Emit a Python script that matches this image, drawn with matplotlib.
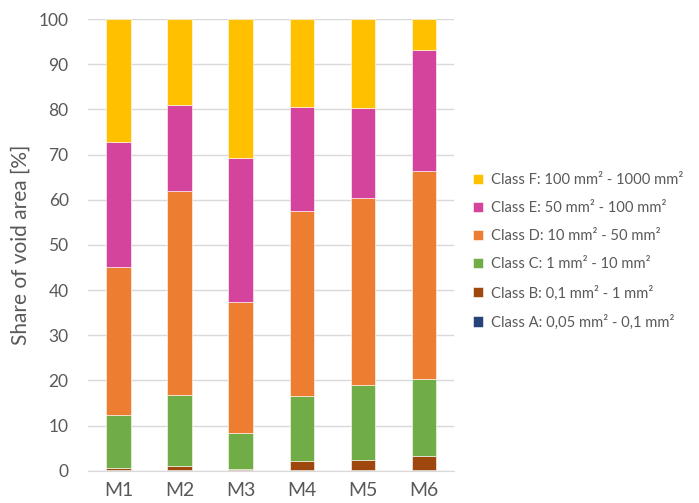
import numpy as np
import matplotlib.pyplot as plt

samples = ['M1', 'M2', 'M3', 'M4', 'M5', 'M6']

# share of void area per class, in percent
class_a = [0.1, 0.1, 0.1, 0.1, 0.1, 0.1]
class_b = [0.6, 0.9, 0.3, 2.0, 2.4, 3.2]
class_c = [11.6, 15.7, 7.9, 14.4, 16.5, 17.0]
class_d = [32.8, 45.3, 29.0, 41.0, 41.5, 46.0]
class_e = [27.6, 19.0, 32.0, 23.0, 19.8, 26.8]
class_f = [27.3, 19.0, 30.7, 19.5, 19.7, 6.9]

labels = ['Class A: 0,05 mm² - 0,1 mm²',
          'Class B: 0,1 mm² - 1 mm²',
          'Class C: 1 mm² - 10 mm²',
          'Class D: 10 mm² - 50 mm²',
          'Class E: 50 mm² - 100 mm²',
          'Class F: 100 mm² - 1000 mm²']
colors = ['#264478', '#9E480E', '#70AD47', '#ED7D31', '#D4449C', '#FFC000']

plt.rcParams['font.family'] = ['Lato', 'DejaVu Sans']
txt = '#595959'

fig = plt.figure(figsize=(6.99, 5.03), dpi=100)
ax = fig.add_axes([0.126, 0.064, 0.524, 0.898])

x = np.arange(len(samples))
bottom = np.zeros(len(samples))
handles = []
for vals, lab, col in zip([class_a, class_b, class_c, class_d, class_e, class_f], labels, colors):
    b = ax.bar(x, vals, 0.4, bottom=bottom, color=col, label=lab,
               edgecolor='white', linewidth=0.4, zorder=3)
    handles.append(b)
    bottom += np.array(vals)

ax.set_xlim(-0.5, 5.5)
ax.set_ylim(0, 100)
ax.set_yticks(range(0, 101, 10))
ax.set_xticks(x)
ax.set_xticklabels(samples)
ax.grid(axis='y', color='#d9d9d9', linewidth=1, zorder=0)
for s in ['top', 'right', 'left']:
    ax.spines[s].set_visible(False)
ax.spines['bottom'].set_color('#d9d9d9')
ax.tick_params(length=0, labelsize=12.5, colors=txt)
ax.tick_params(axis='x', labelsize=14, pad=8)
ax.tick_params(axis='y', pad=14)
ax.set_ylabel('Share of void area [%]', fontsize=15, color=txt, labelpad=6)

fig.legend(handles[::-1], labels[::-1], loc='center left',
           bbox_to_anchor=(0.658, 0.5), frameon=False, fontsize=10.6,
           labelcolor=txt, handlelength=0.7, handleheight=0.7,
           handletextpad=0.5, labelspacing=0.95)

fig.savefig('out.png', dpi=100)
